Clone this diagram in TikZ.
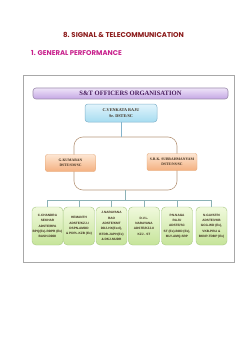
\documentclass[tikz,border=0pt]{standalone}
\usepackage{fontspec}
\setmainfont{Liberation Serif}
\newfontfamily\gothic{Poppins}
\newfontfamily\narrowsf{Liberation Sans}
\definecolor{titlered}{HTML}{8B1A1A}
\definecolor{titlemag}{HTML}{C8208C}
\definecolor{framegray}{HTML}{A8A8A8}
\definecolor{bannertop}{HTML}{EEE4F8}
\definecolor{bannerbot}{HTML}{C4A6E4}
\definecolor{bannerline}{HTML}{9C8CAC}
\definecolor{bannertext}{HTML}{4A1E5E}
\definecolor{cyantop}{HTML}{E2F4FC}
\definecolor{cyanbot}{HTML}{A6DCF0}
\definecolor{cyanline}{HTML}{84B4CC}
\definecolor{orgtop}{HTML}{FDE6D2}
\definecolor{orgbot}{HTML}{F4B080}
\definecolor{orgline}{HTML}{E4A878}
\definecolor{grntop}{HTML}{F0F9DC}
\definecolor{grnbot}{HTML}{C6E49A}
\definecolor{grnline}{HTML}{A6C882}
\definecolor{ringline}{HTML}{B8987C}
\definecolor{busline}{HTML}{8CB2B6}
\definecolor{nodetext}{HTML}{3A2A1A}
\tikzset{
  banner/.style={draw=bannerline, line width=0.6pt, rounded corners=3pt, top color=bannertop, bottom color=bannerbot, minimum width=195pt, minimum height=11pt, inner sep=0pt, font=\bfseries\fontsize{6.6}{7}\selectfont, text=bannertext},
  chiefbox/.style={draw=cyanline, line width=0.5pt, rounded corners=3pt, top color=cyantop, bottom color=cyanbot, minimum width=72pt, minimum height=18pt, inner sep=0pt, align=center, font=\bfseries\fontsize{4.2}{6.5}\selectfont, text=nodetext},
  deputybox/.style={draw=orgline, line width=0.4pt, rounded corners=2pt, top color=orgtop, bottom color=orgbot, minimum width=50pt, minimum height=17pt, inner sep=0pt, align=center, font=\bfseries\fontsize{3.7}{5.5}\selectfont, text=nodetext},
  staffbox/.style={draw=grnline, line width=0.4pt, rounded corners=4pt, top color=grntop, bottom color=grnbot, minimum width=31pt, minimum height=38pt, inner sep=0pt, align=center, font=\narrowsf\bfseries\fontsize{3.15}{5.3}\selectfont, text=nodetext},
  ringbox/.style={draw=ringline, line width=0.6pt, rounded corners=9pt, minimum width=103pt, minimum height=53pt, inner sep=0pt},
  link/.style={draw=busline, line width=0.6pt},
  uplink/.style={draw=cyanline, line width=0.7pt}
}
\begin{document}
\begin{tikzpicture}[x=1pt,y=-1pt]
\useasboundingbox (0,0) rectangle (247,350);
\fill[white] (0,0) rectangle (247,350);
\node[font=\gothic\bfseries\fontsize{7}{7}\selectfont, text=titlered] (t1) at (123.5,34.5) {8. SIGNAL \& TELECOMMUNICATION};
\node[font=\gothic\bfseries\fontsize{6.9}{7}\selectfont, text=titlemag, anchor=west, inner sep=0pt] (t2) at (31,53) {1. GENERAL PERFORMANCE};
\node[draw=framegray, line width=0.8pt, minimum width=211pt, minimum height=187pt, inner sep=0pt] (frame) at (128.5,168.5) {};
\node[banner] (ban) at (130.5,93.5) {S\&T OFFICERS ORGANISATION};
\node[ringbox] (ring) at (125.5,163.5) {};
\node[chiefbox] (chief) at (121,113) {C.VENKATA RAJU\\Sr. DSTE/SC};
\node[deputybox] (dl) at (70.5,163) {G.KUMARAN\\DSTE/SM/SC};
\node[deputybox] (dr) at (172,162) {S.R.K. SUBRAHMANYAM\\DSTE/NS/SC};
\node[staffbox] (b1) at (47.5,226) {C.CHANDRA\\SEKHAR\\ADSTE/RPA\\BPQ(Ex)-RDPR (Ex)\\BASH-DDDI};
\node[staffbox] (b2) at (79,226) {HEMANTH\\ADSTE/KZJ-I\\DSPN-AMDD\\\& PDPL-KZB (Ex)};
\node[staffbox] (b3) at (111.5,226) {J.NARAYANA\\RAO\\ADSTE/KMT\\DDJ-HX(Excl),\\BTDR-JAPH(Ex)\\\& DKJ-MUDR};
\node[staffbox] (b4) at (144,226) {D.V.L.\\NARAYANA\\ADSTE/KZJ-II\\KZJ - ST};
\node[staffbox] (b5) at (177,226) {P.N.NAGA\\RAJU\\ADSTE/SC\\ST (Ex)-BOD (Ex),\\MLY-AMQ-SRP};
\node[staffbox] (b6) at (211.5,226) {N.GAYATRI\\ADSTE/VKB\\GCG-WD (Ex),\\VKB-PRLI \&\\BKNP-TDBP (Ex)};
\draw[uplink] (chief.south) -- (chief.south |- ring.north);
\draw[link] (ring.south) -- ++(0,10) coordinate (busc);
\draw[link] (b1.north) |- (busc) -| (b6.north);
\foreach \b in {b2,b3,b4,b5} \draw[link] (\b.north) -- (\b.north |- busc);
\end{tikzpicture}
\end{document}
